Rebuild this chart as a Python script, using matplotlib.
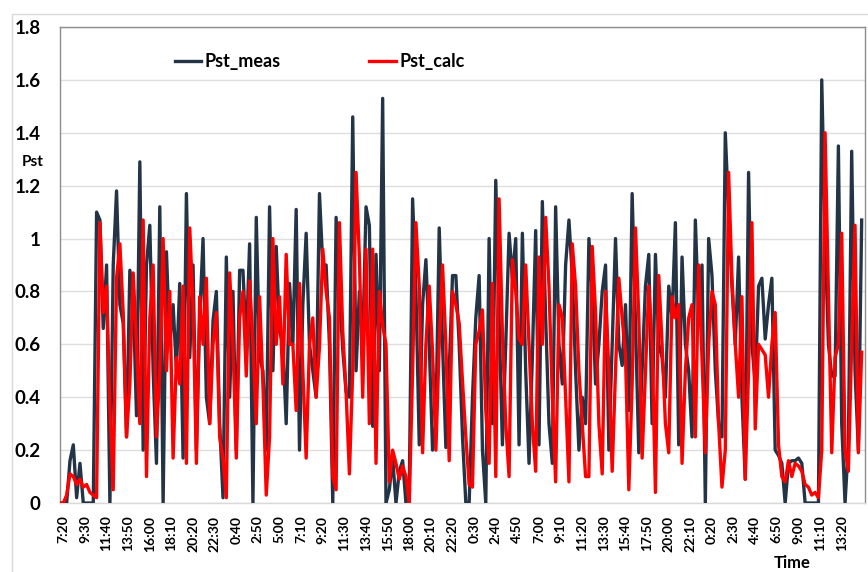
import numpy as np
import matplotlib
matplotlib.use("Agg")
import matplotlib.pyplot as plt
from matplotlib.patches import Rectangle

# Pst flicker severity, one value every 20 minutes starting at 7:00
pst_meas = [
    0.0, 0.0, 0.0, 0.16, 0.22, 0.02, 0.15, 0.0, 0.0, 0.0, 0.0,
    1.1, 1.07, 0.66, 0.9, 0.0, 0.9, 1.18, 0.75, 0.68, 0.25,
    0.88, 0.78, 0.33, 1.29, 0.2, 0.9, 1.05, 0.5, 0.15, 1.12,
    0.0, 0.95, 0.6, 0.75, 0.5, 0.83, 0.17, 1.17, 0.55, 0.9,
    0.2, 0.7, 1.0, 0.4, 0.3, 0.69, 0.8, 0.3, 0.02, 0.93,
    0.4, 0.8, 0.2, 0.88, 0.88, 0.6, 0.98, 0.0, 1.08, 0.55,
    0.5, 0.2, 1.12, 0.5, 0.97, 0.65, 0.6, 0.3, 0.83, 0.6,
    1.11, 0.2, 0.75, 1.02, 0.6, 0.5, 0.4, 1.17, 0.9, 0.9,
    0.6, 0.0, 1.08, 0.8, 0.58, 0.42, 0.4, 1.46, 0.5, 0.8,
    0.6, 1.12, 1.05, 0.29, 0.94, 0.5, 1.53, 0.0, 0.05, 0.17,
    0.0, 0.12, 0.16, 0.0, 0.05, 1.15, 0.8, 0.22, 0.75, 0.92,
    0.6, 0.2, 0.3, 1.04, 0.6, 0.21, 0.5, 0.86, 0.86, 0.6,
    0.25, 0.0, 0.0, 0.4, 0.7, 0.86, 0.2, 0.0, 1.0, 0.3,
    1.22, 0.7, 0.22, 0.6, 1.02, 0.85, 1.0, 0.22, 1.02, 0.5,
    0.15, 0.55, 1.03, 0.22, 1.14, 0.7, 0.3, 0.15, 1.12, 0.6,
    0.45, 0.9, 1.07, 0.86, 0.5, 0.2, 0.4, 0.3, 1.0, 0.8,
    0.45, 0.6, 0.8, 0.9, 0.2, 0.6, 1.0, 0.6, 0.52, 0.75,
    0.35, 1.17, 0.68, 0.19, 0.5, 0.82, 0.94, 0.3, 0.94, 0.6,
    0.55, 0.4, 0.82, 0.7, 1.06, 0.22, 0.93, 0.6, 0.5, 0.25,
    1.07, 0.7, 0.9, 0.0, 1.0, 0.86, 0.5, 0.3, 0.25, 1.4,
    1.1, 0.82, 0.6, 0.93, 0.4, 0.09, 1.25, 0.6, 0.45, 0.82,
    0.85, 0.62, 0.75, 0.85, 0.2, 0.18, 0.15, 0.0, 0.15, 0.16,
    0.16, 0.17, 0.15, 0.0, 0.0, 0.0, 0.0, 0.0, 1.6, 1.0,
    0.6, 0.48, 0.48, 1.35, 0.3, 0.0, 0.22, 1.33, 0.5, 0.2, 1.07,
]

pst_calc = [
    0.0, 0.0, 0.03, 0.11, 0.1, 0.07, 0.09, 0.06, 0.07, 0.04, 0.03,
    0.02, 1.06, 0.72, 0.82, 0.36, 0.05, 0.85, 0.98, 0.72, 0.25,
    0.45, 0.87, 0.6, 0.3, 1.07, 0.1, 0.7, 0.9, 0.25, 0.5,
    1.0, 0.5, 0.8, 0.17, 0.55, 0.45, 0.82, 0.15, 1.04, 0.75,
    0.15, 0.78, 0.6, 0.85, 0.3, 0.6, 0.72, 0.25, 0.17, 0.02,
    0.87, 0.6, 0.17, 0.7, 0.8, 0.48, 0.84, 0.6, 0.3, 0.78,
    0.45, 0.03, 0.25, 1.0, 0.6, 0.78, 0.45, 0.94, 0.6, 0.6,
    0.35, 0.83, 0.5, 0.17, 0.6, 0.7, 0.4, 0.59, 0.96, 0.8,
    0.7, 0.1, 0.05, 1.06, 0.65, 0.42, 0.11, 0.5, 1.25, 0.93,
    0.4, 0.96, 0.3, 0.96, 0.15, 0.8, 0.67, 0.6, 0.08, 0.2,
    0.15, 0.09, 0.14, 0.1, 0.0, 0.5, 1.06, 0.82, 0.19, 0.6,
    0.82, 0.57, 0.2, 0.6, 0.9, 0.6, 0.16, 0.8, 0.75, 0.68,
    0.46, 0.25, 0.07, 0.06, 0.6, 0.65, 0.73, 0.35, 0.15, 0.83,
    0.1, 1.15, 0.64, 0.3, 0.1, 0.92, 0.8, 0.62, 0.6, 0.9,
    0.6, 0.3, 0.12, 0.93, 0.6, 1.08, 0.82, 0.4, 0.08, 0.75,
    0.7, 0.4, 0.08, 0.98, 0.82, 0.5, 0.3, 0.1, 0.1, 0.97,
    0.72, 0.3, 0.11, 0.8, 0.5, 0.12, 0.5, 0.85, 0.7, 0.56,
    0.05, 0.45, 1.04, 0.7, 0.17, 0.5, 0.82, 0.6, 0.04, 0.86,
    0.6, 0.3, 0.19, 0.78, 0.7, 0.75, 0.15, 0.5, 0.7, 0.75,
    0.25, 0.9, 0.55, 0.19, 0.6, 0.8, 0.75, 0.3, 0.06, 0.2,
    1.25, 0.85, 0.6, 0.4, 0.78, 0.09, 0.5, 1.06, 0.28, 0.6,
    0.58, 0.56, 0.4, 0.6, 0.72, 0.22, 0.1, 0.08, 0.16, 0.1,
    0.15, 0.14, 0.12, 0.07, 0.06, 0.03, 0.04, 0.02, 0.2, 1.4,
    0.8, 0.19, 0.55, 0.6, 1.02, 0.2, 0.12, 0.6, 1.05, 0.19, 0.57,
]

time_labels = [
    "7:20", "9:30", "11:40", "13:50", "16:00", "18:10", "20:20", "22:30",
    "0:40", "2:50", "5:00", "7:10", "9:20", "11:30", "13:40", "15:50",
    "18:00", "20:10", "22:20", "0:30", "2:40", "4:50", "7:00", "9:10",
    "11:20", "13:30", "15:40", "17:50", "20:00", "22:10", "0:20", "2:30",
    "4:40", "6:50", "9:00", "11:10", "13:20",
]

STEP_MIN = 20          # sampling step of the series, minutes
FIRST_LABEL_MIN = 20   # 7:20 is 20 minutes after the first sample
LABEL_EVERY_MIN = 130  # a label every 2 h 10 min

minutes = np.arange(len(pst_meas)) * STEP_MIN
tick_pos = FIRST_LABEL_MIN + np.arange(len(time_labels)) * LABEL_EVERY_MIN

plt.rcParams["font.family"] = ["Lato", "DejaVu Sans"]
plt.rcParams["font.weight"] = "bold"

W, H = 868, 572
fig = plt.figure(figsize=(W / 100, H / 100), dpi=100)
ax = fig.add_axes([60 / W, 1 - 503 / H, 805 / W, 476 / H])

meas_color = "#243447"
calc_color = "#ff0000"
ax.plot(minutes, pst_meas, color=meas_color, lw=2.4, label="Pst_meas",
        solid_joinstyle="round", zorder=3)
ax.plot(minutes, pst_calc, color=calc_color, lw=2.4, label="Pst_calc",
        solid_joinstyle="round", zorder=4)

ax.set_xlim(0, len(pst_meas) * STEP_MIN)
ax.set_ylim(0, 1.8)
ax.set_yticks(np.arange(0, 1.81, 0.2))
ax.set_yticklabels(["0", "0.2", "0.4", "0.6", "0.8", "1", "1.2", "1.4", "1.6", "1.8"])
ax.set_xticks(tick_pos)
ax.set_xticklabels(time_labels, rotation=90)

ax.tick_params(axis="y", length=0, pad=14, labelsize=13.5)
ax.tick_params(axis="x", length=0, pad=9, labelsize=10)
for lab in ax.get_yticklabels() + ax.get_xticklabels():
    lab.set_fontweight("bold")

ax.grid(axis="y", color="#dedede", lw=1.0, zorder=0)
ax.set_axisbelow(True)
for side in ("left", "top", "right"):
    ax.spines[side].set_color("#8c8c8c")
    ax.spines[side].set_linewidth(1.0)
ax.spines["bottom"].set_color("#d9d9d9")
ax.spines["bottom"].set_linewidth(1.0)

leg = ax.legend(loc="upper left", bbox_to_anchor=(115 / 805, 1 - 26 / 476),
                ncol=2, frameon=False, fontsize=13, handlelength=1.45,
                handletextpad=0.2, columnspacing=4.9, borderpad=0,
                borderaxespad=0)
for t in leg.get_texts():
    t.set_fontweight("bold")

fig.text(33 / W, 1 - 162 / H, "Pst", ha="center", va="center",
         fontsize=11, fontweight="bold")
fig.text(792 / W, 1 - 563 / H, "Time", ha="center", va="center",
         fontsize=12, fontweight="bold")

# outer chart-area frame
fig.add_artist(Rectangle((12 / W, -0.1), 1.2, 1.1 - 14 / H,
                         transform=fig.transFigure, fill=False,
                         edgecolor="#d9d9d9", lw=1.0))

fig.savefig("out.png", dpi=100)
